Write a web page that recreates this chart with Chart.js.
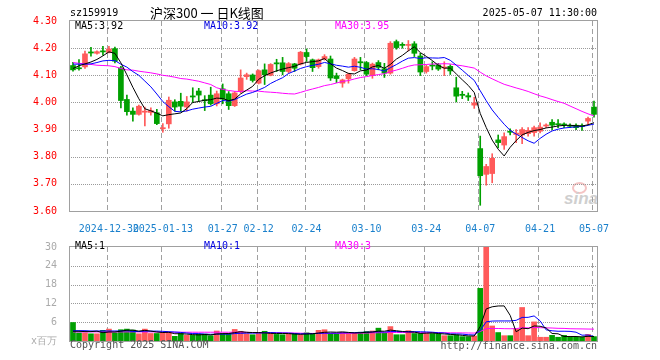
<!DOCTYPE html>
<html>
<head>
<meta charset="utf-8">
<script src="https://cdn.jsdelivr.net/npm/chart.js@4.4.1/dist/chart.umd.min.js"></script>
<style>
  body { margin: 0; width: 660px; height: 360px; background: #fff; position: relative; overflow: hidden;
         font-family: "DejaVu Sans Mono", monospace; font-size: 10px; }
  canvas { position: absolute; left: 0; }
  .t { position: absolute; white-space: pre; line-height: 12px; }
  .title { font-family: "Noto Sans CJK SC", sans-serif; font-size: 13px; line-height: 15px; }
  .logo { font-family: "Liberation Sans", sans-serif; font-style: italic; font-weight: bold; font-size: 17px;
          color: #cfcfcf; line-height: 17px; }
  .eye { position: absolute; width: 11px; height: 8px; border: 2px solid #f4c4c4; border-radius: 50%; }
</style>
</head>
<body>
<div class="eye" style="left:572px;top:182px"></div>
<div class="t logo" style="left:564px;top:190px">sina</div>
<canvas id="kChart" width="660" height="235" style="top:0"></canvas>
<canvas id="volChart" width="660" height="124" style="top:236px"></canvas>

<div class="t" style="left:70px;top:7px">sz159919</div>
<div class="t title" style="left:150px;top:5px">沪深300 一 日K线图</div>
<div class="t" style="right:63px;top:7px">2025-05-07 11:30:00</div>
<div class="t" style="left:75px;top:20px;color:#000">MA5:3.92</div>
<div class="t" style="left:204px;top:20px;color:#0000e0">MA10:3.92</div>
<div class="t" style="left:335px;top:20px;color:#ff00ff">MA30:3.95</div>
<div class="t" style="left:75px;top:240px;color:#000">MA5:1</div>
<div class="t" style="left:204px;top:240px;color:#0000e0">MA10:1</div>
<div class="t" style="left:335px;top:240px;color:#ff00ff">MA30:3</div>
<div class="t" style="left:70px;top:339px;color:#555">Copyright 2025 SINA.COM</div>
<div class="t" style="right:63px;top:340px;color:#555">http://finance.sina.com.cn</div>

<script>
// 交易日
const dates = [
  '2024-12-20','2024-12-23','2024-12-24','2024-12-25','2024-12-26','2024-12-27','2024-12-30','2024-12-31',
  '2025-01-02','2025-01-03','2025-01-06','2025-01-07','2025-01-08','2025-01-09','2025-01-10','2025-01-13',
  '2025-01-14','2025-01-15','2025-01-16','2025-01-17','2025-01-20','2025-01-21','2025-01-22','2025-01-23',
  '2025-01-24','2025-01-27','2025-02-05','2025-02-06','2025-02-07','2025-02-10','2025-02-11','2025-02-12',
  '2025-02-13','2025-02-14','2025-02-17','2025-02-18','2025-02-19','2025-02-20','2025-02-21','2025-02-24',
  '2025-02-25','2025-02-26','2025-02-27','2025-02-28','2025-03-03','2025-03-04','2025-03-05','2025-03-06',
  '2025-03-07','2025-03-10','2025-03-11','2025-03-12','2025-03-13','2025-03-14','2025-03-17','2025-03-18',
  '2025-03-19','2025-03-20','2025-03-21','2025-03-24','2025-03-25','2025-03-26','2025-03-27','2025-03-28',
  '2025-03-31','2025-04-01','2025-04-02','2025-04-03','2025-04-07','2025-04-08','2025-04-09','2025-04-10',
  '2025-04-11','2025-04-14','2025-04-15','2025-04-16','2025-04-17','2025-04-18','2025-04-21','2025-04-22',
  '2025-04-23','2025-04-24','2025-04-25','2025-04-28','2025-04-29','2025-04-30','2025-05-06','2025-05-07'
];

const opens = [
  4.136,4.127,4.131,4.186,4.181,4.190,4.184,4.198,4.127,4.011,3.968,3.956,3.964,3.963,3.962,3.903,
  3.921,4.002,4.004,3.983,4.024,4.042,4.010,4.027,3.995,4.050,4.032,3.988,4.040,4.095,4.101,4.071,
  4.120,4.100,4.146,4.146,4.114,4.142,4.141,4.184,4.157,4.132,4.160,4.160,4.098,4.071,4.087,4.117,
  4.150,4.147,4.099,4.147,4.124,4.108,4.224,4.214,4.210,4.216,4.171,4.114,4.136,4.138,4.127,4.133,
  4.054,4.030,4.025,3.990,3.830,3.735,3.738,3.862,3.843,3.893,3.882,3.880,3.885,3.889,3.894,3.913,
  3.927,3.921,3.920,3.915,3.916,3.914,3.931,3.983
];
const highs = [
  4.148,4.158,4.189,4.203,4.190,4.207,4.207,4.204,4.133,4.027,3.980,3.990,3.983,3.980,3.975,3.922,
  4.020,4.010,4.034,4.022,4.054,4.052,4.025,4.056,4.042,4.068,4.040,4.040,4.120,4.108,4.105,4.120,
  4.142,4.143,4.159,4.166,4.147,4.144,4.188,4.197,4.160,4.160,4.176,4.171,4.108,4.086,4.108,4.166,
  4.166,4.151,4.145,4.154,4.144,4.224,4.230,4.220,4.228,4.224,4.181,4.138,4.150,4.144,4.150,4.139,
  4.093,4.041,4.035,4.019,3.876,3.772,3.811,3.880,3.888,3.903,3.900,3.907,3.907,3.913,3.925,3.921,
  3.937,3.937,3.925,3.921,3.921,3.921,3.946,4.005
];
const lows = [
  4.115,4.119,4.125,4.170,4.178,4.174,4.182,4.146,3.980,3.953,3.931,3.953,3.913,3.953,3.918,3.890,
  3.905,3.968,3.967,3.968,4.000,4.003,3.970,3.990,3.987,3.995,3.974,3.985,4.035,4.085,4.075,4.068,
  4.066,4.098,4.114,4.102,4.108,4.114,4.138,4.151,4.114,4.126,4.156,4.081,4.073,4.056,4.071,4.115,
  4.120,4.099,4.089,4.120,4.092,4.104,4.196,4.200,4.190,4.169,4.099,4.108,4.120,4.118,4.099,4.103,
  4.002,4.014,4.007,3.978,3.621,3.695,3.704,3.833,3.827,3.880,3.852,3.848,3.876,3.876,3.888,3.907,
  3.900,3.907,3.907,3.907,3.900,3.897,3.919,3.946
];
const closes = [
  4.120,4.124,4.179,4.182,4.187,4.186,4.197,4.152,4.007,3.966,3.956,3.986,3.968,3.970,3.922,3.907,
  4.008,3.983,3.986,4.002,4.020,4.027,4.006,3.995,4.032,4.012,3.988,4.035,4.090,4.102,4.081,4.117,
  4.102,4.140,4.142,4.114,4.143,4.126,4.185,4.169,4.128,4.157,4.169,4.090,4.088,4.083,4.104,4.160,
  4.146,4.104,4.141,4.129,4.108,4.218,4.202,4.210,4.213,4.181,4.112,4.132,4.134,4.123,4.129,4.116,
  4.023,4.026,4.020,3.998,3.730,3.764,3.794,3.852,3.874,3.890,3.887,3.900,3.897,3.907,3.909,3.917,
  3.916,3.918,3.917,3.912,3.907,3.911,3.941,3.956
];
// 成交量 (百万)
const volumes = [
  5.9,2.6,2.6,2.3,2.3,3.4,3.8,2.6,3.6,3.8,3.5,2.3,3.8,2.4,2.4,2.6,
  2.7,1.5,2.4,1.8,1.8,2.2,2.2,1.7,3.2,2.4,2.4,3.7,3.1,2.3,2.0,2.4,
  3.1,2.4,2.1,2.0,2.2,2.4,2.0,2.6,2.3,3.4,3.6,2.4,2.3,2.8,2.6,2.7,
  2.8,3.0,3.2,4.1,2.5,4.6,2.0,2.0,3.3,2.4,2.4,2.4,2.4,2.3,1.7,1.7,
  1.9,1.4,1.4,1.6,16.8,30,4.8,2.7,1.7,1.7,3.8,10.7,1.7,6.1,1.2,1.2,
  1.8,1.2,1.8,1.2,1.2,1.2,2.1,1.4
];

// 均线开头部分(窗口之前的数据不在图内，直接从图上读)
const ma5Head = [4.125, 4.135, 4.142, 4.149];
const ma10Head = [4.141, 4.141, 4.141, 4.142, 4.147, 4.153, 4.155, 4.154, 4.141];
const ma30Head = [
  4.147,4.144,4.142,4.140,4.137,4.136,4.135,4.132,4.125,4.120,4.119,4.115,4.112,4.109,4.105,
  4.100,4.097,4.093,4.088,4.086,4.082,4.078,4.072,4.066,4.054,4.048,4.044,4.041,4.040
];
const volMa5Head = [3.1, 3.1, 3.0, 3.0];
const volMa10Head = [3.3, 3.3, 3.3, 3.2, 3.2, 3.2, 3.2, 3.2, 3.2];
const volMa30Head = [
  2.9,2.9,2.9,2.9,2.9,2.9,2.9,2.9,2.9,2.9,2.9,2.9,2.9,2.9,2.9,
  2.8,2.8,2.8,2.8,2.8,2.8,2.8,2.8,2.8,2.8,2.8,2.8,2.8,2.8
];

const tickDates = ['2024-12-30','2025-01-13','2025-01-27','2025-02-12','2025-02-24',
                   '2025-03-10','2025-03-24','2025-04-07','2025-04-21','2025-05-07'];
const tickText = ['2024-12-30','2025-01-13','01-27','02-12','02-24','03-10','03-24','04-07','04-21','05-07'];
const priceGrid = [3.7, 3.8, 3.9, 4.0, 4.1, 4.2];
const volGrid = [6, 12, 18, 24];

const UP = '#ff5a5a';
const DOWN = '#00a000';
const MONO = 'DejaVu Sans Mono';

function movingAvg(vals, n, head) {
  return vals.map((v, i) => {
    if (i < n - 1) return head[i];
    let s = 0;
    for (let k = i - n + 1; k <= i; k++) s += vals[k];
    return s / n;
  });
}

const colors = closes.map((c, i) => c >= opens[i] ? UP : DOWN);
const tickIdx = tickDates.map(d => dates.indexOf(d));

// 网格: 横向点线, 纵向虚线
function drawGrid(chart, hLines) {
  const a = chart.chartArea, ctx = chart.ctx;
  const xs = chart.scales.x, ys = chart.scales.y;
  const L = Math.round(a.left), R = Math.round(a.right);
  const T = Math.round(a.top), B = Math.round(a.bottom);
  ctx.save();
  ctx.fillStyle = '#9a9a9a';
  for (const v of hLines) {
    const y = Math.round(ys.getPixelForValue(v));
    for (let x = L + 1; x < R; x += 2) ctx.fillRect(x, y, 1, 1);
  }
  ctx.fillStyle = '#a0a0a0';
  for (const i of tickIdx) {
    const x = Math.round(xs.getPixelForValue(i)) - 2;
    for (let y = T; y < B; y += 8) ctx.fillRect(x, y, 1, Math.min(5, B - y));
  }
  ctx.restore();
}

function drawFrame(chart) {
  const a = chart.chartArea, ctx = chart.ctx;
  ctx.save();
  ctx.strokeStyle = '#a0a0a0';
  ctx.lineWidth = 1;
  ctx.strokeRect(Math.round(a.left) - 0.5, Math.round(a.top) - 0.5,
                 Math.round(a.right - a.left) + 1, Math.round(a.bottom - a.top) + 1);
  ctx.restore();
}

function gridPlugin(hLines) {
  return {
    id: 'sinaGrid',
    beforeDatasetsDraw(chart) { drawGrid(chart, hLines); },
    afterDraw(chart) { drawFrame(chart); }
  };
}

function xAxis(showLabels) {
  return {
    offset: true,
    grid: { display: false },
    border: { display: false },
    ticks: {
      display: showLabels,
      autoSkip: false,
      maxRotation: 0,
      padding: 4,
      color: '#1a80cc',
      font: { family: MONO, size: 10 },
      callback: (v, i) => {
        const k = tickIdx.indexOf(i);
        return k >= 0 ? tickText[k] : '';
      }
    },
    afterFit: s => { s.height = showLabels ? 24 : 0; }
  };
}

function lineSet(data, color) {
  return { type: 'line', data, borderColor: color, borderWidth: 1, pointRadius: 0,
           fill: false, tension: 0, order: 0 };
}

function initCharts() {
  new Chart(document.getElementById('kChart'), {
    type: 'bar',
    data: {
      labels: dates,
      datasets: [
        lineSet(movingAvg(closes, 5, ma5Head), '#000000'),
        lineSet(movingAvg(closes, 10, ma10Head), '#0000ff'),
        lineSet(movingAvg(closes, 30, ma30Head), '#ff00ff'),
        { data: opens.map((o, i) => [Math.min(o, closes[i]), Math.max(o, closes[i])]),
          backgroundColor: colors, barThickness: 5, minBarLength: 1, grouped: false, order: 2 },
        { data: lows.map((l, i) => [l, highs[i]]),
          backgroundColor: colors, barThickness: 1, grouped: false, order: 3 }
      ]
    },
    options: {
      responsive: false,
      animation: false,
      events: [],
      layout: { padding: { top: 21, right: 63, left: 0, bottom: 0 } },
      plugins: { legend: { display: false }, tooltip: { enabled: false } },
      scales: {
        x: xAxis(true),
        y: {
          min: 3.6, max: 4.3,
          grid: { display: false },
          border: { display: false },
          ticks: { stepSize: 0.1, padding: 5, color: '#ff0000',
                   font: { family: MONO, size: 10 }, callback: v => v.toFixed(2) },
          afterFit: s => { s.width = 70; }
        }
      }
    },
    plugins: [gridPlugin(priceGrid)]
  });

  new Chart(document.getElementById('volChart'), {
    type: 'bar',
    data: {
      labels: dates,
      datasets: [
        lineSet(movingAvg(volumes, 5, volMa5Head), '#000000'),
        lineSet(movingAvg(volumes, 10, volMa10Head), '#0000ff'),
        lineSet(movingAvg(volumes, 30, volMa30Head), '#ff00ff'),
        { data: volumes, backgroundColor: colors, barThickness: 5, grouped: false, order: 2 }
      ]
    },
    options: {
      responsive: false,
      animation: false,
      events: [],
      layout: { padding: { top: 5, right: 63, left: 0, bottom: 19 } },
      plugins: { legend: { display: false }, tooltip: { enabled: false } },
      scales: {
        x: xAxis(false),
        y: {
          min: 0, max: 30,
          grid: { display: false },
          border: { display: false },
          ticks: { stepSize: 6, padding: 5, color: '#aaaaaa',
                   font: { family: MONO, size: 10 }, callback: v => v === 0 ? 'x百万' : v },
          afterFit: s => { s.width = 70; }
        }
      }
    },
    plugins: [gridPlugin(volGrid)]
  });
}

initCharts();
</script>
</body>
</html>
